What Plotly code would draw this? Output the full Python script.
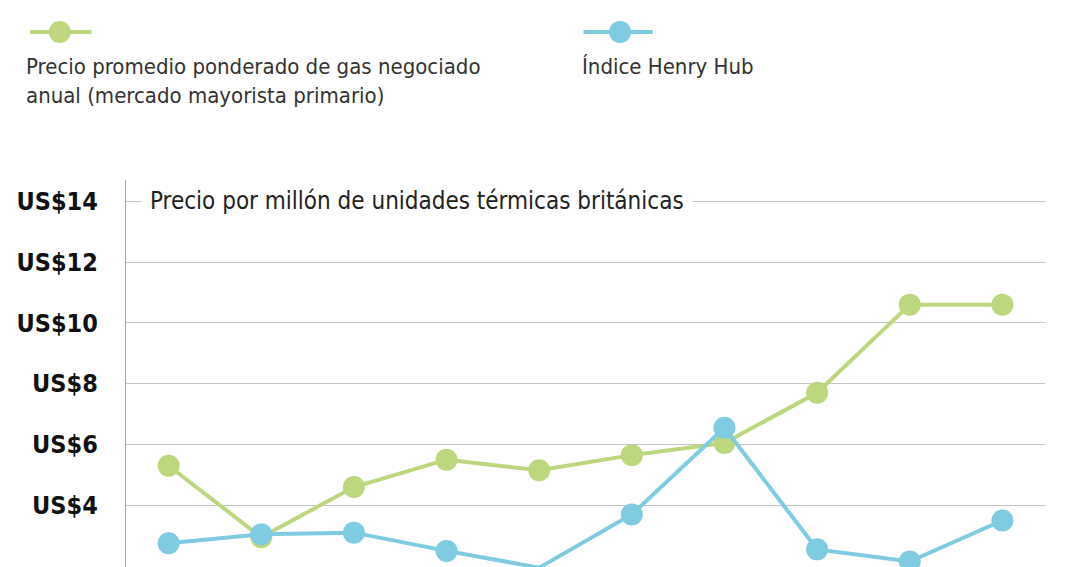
import plotly.graph_objects as go

years = list(range(10))
precio_mayorista = [5.3, 2.95, 4.6, 5.5, 5.15, 5.65, 6.05, 7.7, 10.6, 10.6]
henry_hub = [2.75, 3.05, 3.1, 2.5, 1.95, 3.7, 6.55, 2.55, 2.15, 3.5]
tick_vals = [2, 4, 6, 8, 10, 12, 14]
tick_text = ["US&#36;" + str(v) for v in tick_vals]

green = "#bdd77f"
blue = "#7fcbe1"
font = "Liberation Sans Narrow, DejaVu Sans Condensed, sans-serif"

fig = go.Figure()
fig.add_trace(go.Scatter(x=years, y=precio_mayorista, mode="lines+markers",
                         line=dict(color=green, width=4), marker=dict(size=22, color=green),
                         cliponaxis=False))
fig.add_trace(go.Scatter(x=years, y=henry_hub, mode="lines+markers",
                         line=dict(color=blue, width=4), marker=dict(size=22, color=blue),
                         cliponaxis=False))

W, L, T = 930, 115, 180
OFF = 8  # page offset
def px(x):
    return (x - L) / W
def py(y):
    return (567 - y) / 387

shapes = []
for x0, x1, xc, c in [(18, 80, 48, green), (578, 648, 615, blue)]:
    shapes.append(dict(type="line", xref="paper", yref="paper", x0=px(x0), x1=px(x1),
                       y0=py(32), y1=py(32), line=dict(color=c, width=4)))
    shapes.append(dict(type="circle", xref="paper", yref="paper", xsizemode="pixel", ysizemode="pixel",
                       xanchor=px(xc), yanchor=py(32), x0=-11, x1=11, y0=-11, y1=11,
                       fillcolor=c, line=dict(width=0)))

fig.update_layout(
    width=1080, height=567, showlegend=False,
    margin=dict(l=L - OFF, r=1080 - L - W + OFF, t=T - OFF, b=OFF),
    plot_bgcolor="white", paper_bgcolor="white",
    shapes=shapes,
    xaxis=dict(range=[-0.46, 9.46], showgrid=False, showticklabels=False, zeroline=False,
               showline=False),
    yaxis=dict(range=[1.97, 14.7], tickvals=tick_vals, ticktext=tick_text,
               showgrid=True, gridcolor="#c4c4c4", gridwidth=1.3, zeroline=False,
               showline=True, linecolor="#aaaaaa", linewidth=1.3, ticks="",
               ticklabelstandoff=22,
               tickfont=dict(family=font, size=25, color="#111111", weight="bold")),
    annotations=[
        dict(text="Precio por millón de unidades térmicas británicas", xref="paper", yref="y",
             x=px(130), y=14, xanchor="left", yanchor="middle", showarrow=False,
             bgcolor="white", borderpad=8, font=dict(family=font, size=24, color="#222")),
        dict(text="Precio promedio ponderado de gas negociado<br>anual (mercado mayorista primario)",
             xref="paper", yref="paper", x=px(12), y=py(52), xanchor="left", yanchor="top",
             align="left", showarrow=False, font=dict(family=font, size=22, color="#333")),
        dict(text="Índice Henry Hub", xref="paper", yref="paper", x=px(574), y=py(52),
             xanchor="left", yanchor="top", align="left", showarrow=False,
             font=dict(family=font, size=22, color="#333")),
    ],
)
fig.write_html("out.html")
